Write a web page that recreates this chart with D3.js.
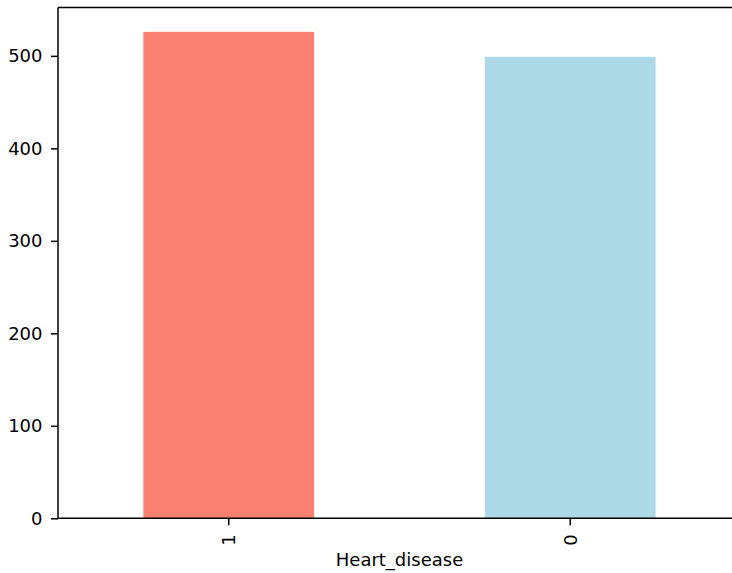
<!DOCTYPE html>
<html><head><meta charset="utf-8">
<script src="https://cdn.jsdelivr.net/npm/d3@7"></script>
<style>body{margin:0;background:#fff}svg{display:block}text{font-family:"DejaVu Sans",sans-serif;fill:#000}</style>
</head><body>
<script>
const categories = ["1", "0"];
const counts = [526, 499];
const colors = ["salmon", "lightblue"];
const yTicks = [0, 100, 200, 300, 400, 500];
const xLabel = "Heart_disease";

(function () {
const W = 732, H = 573;
const mLeft = 58, mTop = 7.5, mBottom = 518.3, mRight = 58 + 683;
const fs = "18px";
const svg = d3.select("body").append("svg").attr("width", W).attr("height", H);

const x = d3.scaleBand().domain(categories).range([mLeft, mRight]).paddingInner(0.5).paddingOuter(0.25);
const y = d3.scaleLinear().domain([0, d3.max(counts) * 1.05]).range([mBottom, mTop]);

svg.selectAll("rect.bar").data(categories).enter().append("rect")
  .attr("class", "bar")
  .attr("x", d => x(d)).attr("width", x.bandwidth())
  .attr("y", (d, i) => y(counts[i])).attr("height", (d, i) => mBottom - y(counts[i]))
  .attr("fill", (d, i) => colors[i]);

const yAxis = svg.append("g").attr("transform", `translate(${mLeft},0)`)
  .call(d3.axisLeft(y).tickValues(yTicks).tickSize(7).tickPadding(8.5).tickFormat(d3.format("d")));
yAxis.select(".domain").remove();
yAxis.selectAll("line").attr("stroke", "#000").attr("stroke-width", 1.5);
yAxis.selectAll("text").attr("font-size", fs).style("font-family", "'DejaVu Sans'").attr("fill", "#000");

const xAxis = svg.append("g").attr("transform", `translate(0,${mBottom})`)
  .call(d3.axisBottom(x).tickSize(7).tickPadding(0));
xAxis.select(".domain").remove();
xAxis.selectAll("line").attr("stroke", "#000").attr("stroke-width", 1.5);
xAxis.selectAll("text").attr("font-size", fs).style("font-family", "'DejaVu Sans'")
  .attr("fill", "#000")
  .attr("transform", "translate(0,16) rotate(-90)")
  .attr("text-anchor", "end").attr("dy", "0.35em").attr("y", 0).attr("x", 0);

const sp = svg.append("g").attr("stroke", "#000").attr("stroke-width", 1.5).attr("fill", "none");
sp.append("line").attr("x1", mLeft).attr("x2", mLeft).attr("y1", mTop).attr("y2", mBottom);
sp.append("line").attr("x1", mLeft).attr("x2", mRight).attr("y1", mBottom).attr("y2", mBottom);
sp.append("line").attr("x1", mLeft).attr("x2", mRight).attr("y1", mTop).attr("y2", mTop);
sp.append("line").attr("x1", mRight).attr("x2", mRight).attr("y1", mTop).attr("y2", mBottom);

svg.append("text").attr("x", (mLeft + mRight) / 2).attr("y", 566).attr("text-anchor", "middle")
  .attr("font-size", fs).text(xLabel);
})();
</script>
</body></html>
